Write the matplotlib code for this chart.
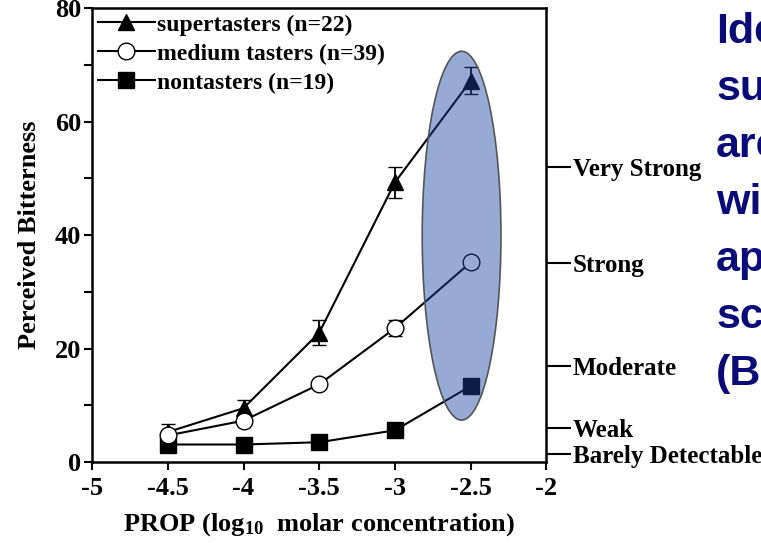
import numpy as np
import matplotlib
matplotlib.use("Agg")
import matplotlib.pyplot as plt
from matplotlib.patches import Ellipse

plt.rcParams['font.family'] = 'Liberation Serif'
plt.rcParams['font.weight'] = 'bold'
plt.rcParams['mathtext.fontset'] = 'custom'
plt.rcParams['mathtext.rm'] = 'Liberation Serif:bold'
plt.rcParams['mathtext.bf'] = 'Liberation Serif:bold'
plt.rcParams['mathtext.default'] = 'rm'

# PROP concentration (log10 M)
conc = [-4.5, -4.0, -3.5, -3.0, -2.5]

# mean perceived bitterness per group, with SE
super_mean = [5.3, 9.5, 22.8, 49.3, 67.2]
super_err = [1.4, 1.5, 2.2, 2.7, 2.4]
medium_mean = [4.7, 7.3, 13.7, 23.6, 35.2]
medium_err = [0.6, 0.6, 0.6, 1.4, 1.0]
non_mean = [3.1, 3.1, 3.5, 5.6, 13.4]

# gLMS descriptors on the right side
glms_vals = [1.4, 6, 17, 35, 52]
glms_labels = ['Barely Detectable', 'Weak', 'Moderate', 'Strong', 'Very Strong']

side_lines = ['Identify', 'supertasters', 'are', 'with', 'appropriate',
              'scales', '(Bartoshuk)']

fig = plt.figure(figsize=(7.61, 5.43), dpi=100)
ax = fig.add_axes([0.121, 0.149, 0.597, 0.836])

h1 = ax.errorbar(conc, super_mean, yerr=super_err, color='black', marker='^',
                 markersize=12, lw=1.5, capsize=5, elinewidth=1.3,
                 label='supertasters (n=22)', zorder=3)
h2 = ax.errorbar(conc, medium_mean, yerr=medium_err, color='black', marker='o',
                 markersize=12, markerfacecolor='white', lw=1.5, capsize=5,
                 elinewidth=1.3, label='medium tasters (n=39)', zorder=3)
h3, = ax.plot(conc, non_mean, color='black', marker='s', markersize=12, lw=1.5,
              label='nontasters (n=19)', zorder=3)

# highlight ellipse over the highest concentration
ell = Ellipse((-2.56, 39.9), 0.52, 65, facecolor=(25/255, 67/255, 165/255, 0.45),
              edgecolor='#555555', lw=1.2, zorder=5)
ax.add_patch(ell)

ax.set_xlim(-5, -2)
ax.set_ylim(0, 80)
ax.set_xticks(np.arange(-5, -1.9, 0.5))
ax.set_xticklabels(['-5', '-4.5', '-4', '-3.5', '-3', '-2.5', '-2'])
ax.set_yticks([0, 20, 40, 60, 80])
ax.set_yticks([10, 30, 50, 70], minor=True)
ax.tick_params(axis='both', which='major', direction='out', length=6, width=1.5,
               labelsize=19)
ax.tick_params(axis='y', which='minor', direction='out', length=6, width=1.5)
ax.tick_params(axis='x', pad=5)
ax.tick_params(axis='y', pad=2)
for s in ax.spines.values():
    s.set_linewidth(1.8)

ax.set_xlabel('PROP (log$_{10}$  molar concentration)', fontsize=19,
              fontweight='bold', labelpad=8)
ax.set_ylabel('Perceived Bitterness', fontsize=19, fontweight='bold', labelpad=10)

# legend without the error bar glyphs, in the original order
leg = ax.legend([h1[0], h2[0], h3],
                ['supertasters (n=22)', 'medium tasters (n=39)', 'nontasters (n=19)'],
                loc='upper left', frameon=False, fontsize=17, handlelength=2.4,
                handletextpad=0.1, labelspacing=0.32, borderaxespad=0.15,
                borderpad=0.1)

ax2 = ax.twinx()
ax2.set_ylim(0, 80)
ax2.set_yticks(glms_vals)
ax2.set_yticklabels(glms_labels)
ax2.tick_params(axis='y', direction='out', length=18, width=1.5, labelsize=18, pad=1)
for s in ax2.spines.values():
    s.set_visible(False)

for i, line in enumerate(side_lines):
    fig.text(0.941, 1 - (32 + 57 * i) / 543, line, family='Liberation Sans',
             fontweight='bold', fontsize=31, color='#0a0a78', va='center',
             ha='left')

fig.savefig('out.png', dpi=100)
